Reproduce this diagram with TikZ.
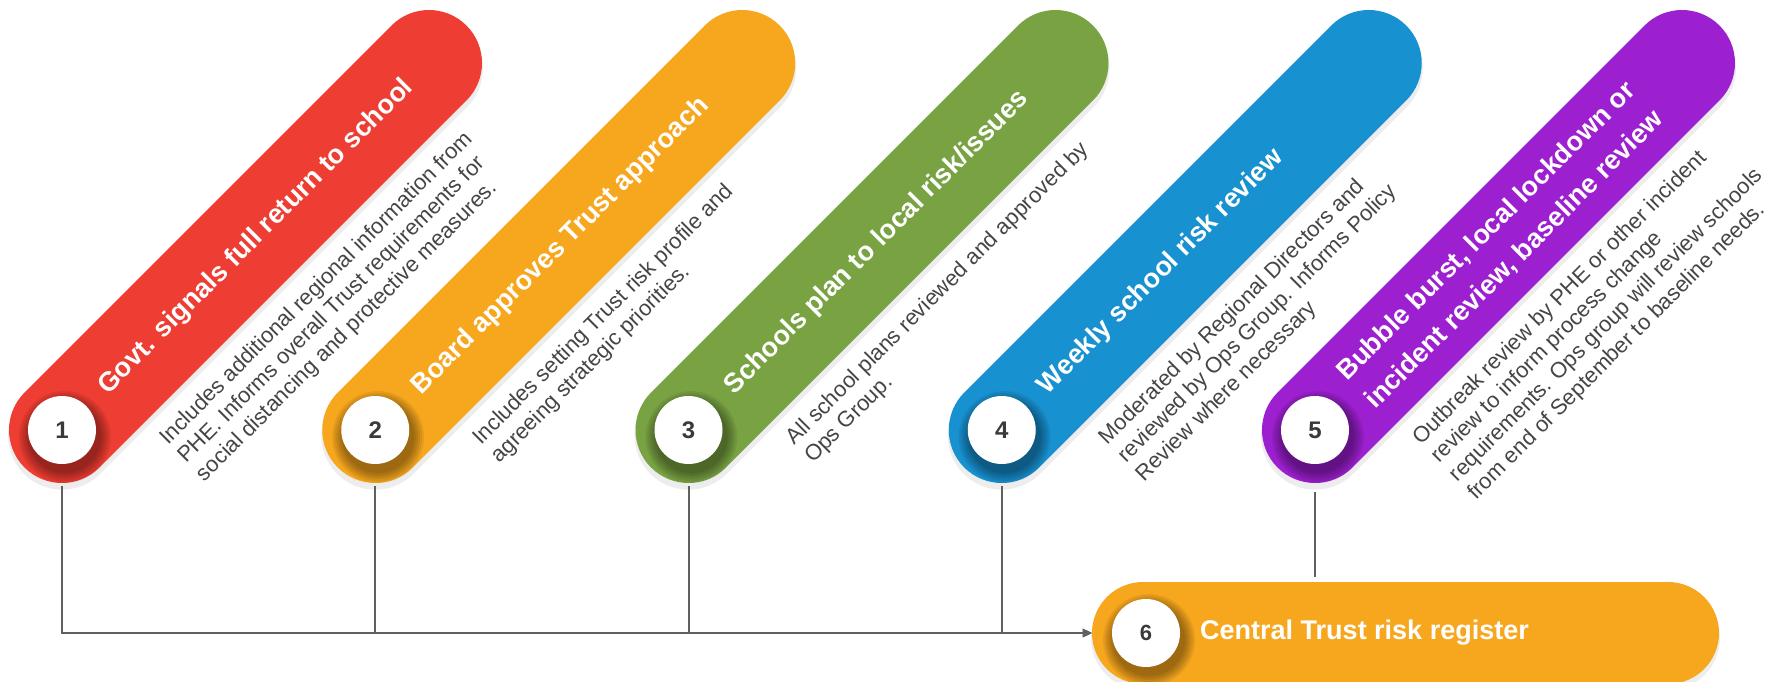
\documentclass[tikz,border=0pt]{standalone}
\usepackage{fontspec}
\setmainfont{Liberation Sans}
\usetikzlibrary{shapes.misc, arrows.meta}

\definecolor{govred}{HTML}{EE3D32}
\definecolor{boardorange}{HTML}{F7A71E}
\definecolor{schoolgreen}{HTML}{79A343}
\definecolor{weeklyblue}{HTML}{1891D0}
\definecolor{bubblepurple}{HTML}{9D20D0}
\definecolor{linkgray}{HTML}{606060}
\definecolor{infogray}{HTML}{454545}
\definecolor{numgray}{HTML}{3A3A3A}

\begin{document}
\begin{tikzpicture}[
        x = 1pt, y = -1pt,
        pill/.style = {line width = 106pt, line cap = round},
        haze/.style = {black, opacity = 0.07},
        numdot/.style = {circle, fill = white, minimum size = 68pt, inner sep = 0, text = numgray, font = \fontsize{24}{24}\selectfont\bfseries},
        head/.style = {text = white, font = \fontsize{27}{40}\selectfont\bfseries, align = left, anchor = west, inner sep = 0},
        info/.style = {text = infogray, font = \fontsize{22}{26}\selectfont, align = left, anchor = base west, inner sep = 0},
        regbox/.style = {rounded rectangle, fill = boardorange, minimum width = 627pt, minimum height = 102pt, inner sep = 0},
        link/.style = {linkgray, line width = 2pt}
    ]
        \useasboundingbox (0,0) rectangle (1765,682);

        \foreach \i/\col/\n/\head/\info in {
            1/govred/3/{Govt. signals full return to school}/{Includes additional regional information from\\PHE. Informs overall Trust requirements for\\social distancing and protective measures.},
            2/boardorange/2/{Board approves Trust approach}/{Includes setting Trust risk profile and\\agreeing strategic priorities.},
            3/schoolgreen/2/{Schools plan to local risk/issues}/{All school plans reviewed and approved by\\Ops Group.},
            4/weeklyblue/3/{Weekly school risk review}/{Moderated by Regional Directors and\\reviewed by Ops Group. Informs Policy\\Review where necessary},
            5/bubblepurple/4/{Bubble burst, local lockdown or\\incident review, baseline review}/{Outbreak review by PHE or other incident\\review to inform process change\\requirements. Ops group will review schools\\from end of September to baseline needs.}}{
            \begin{scope}[shift = {(62 + 313.25 * \i - 313.25, 430)}, rotate = 45]
                \draw[pill, haze, line width = 108pt] (-4,4) -- (515,4);
                \draw[pill, \col] (0,0) -- (519,0);
                \foreach \k in {1,...,6}
                    \fill[haze] (-3,7) circle[radius = 34 + 2 * \k];
                \node[numdot] (n\i) at (0,0) {\i};
                \node[head, rotate = 45] (h\i) at (57,1) {\head};
                \node[info, rotate = 45] (t\i) at (64,60 + 26 * \n) {\info};
            \end{scope}
        }

        \draw[haze, line width = 104pt, line cap = round] (1143,638) -- (1668,638);
        \node[regbox] (reg) at (1405.5,633) {};
        \foreach \k in {1,...,6}
            \fill[haze] (1149,640) circle[radius = 34 + 2 * \k];
        \node[numdot, font = \fontsize{22}{22}\selectfont\bfseries] (n6) at (1146,633) {6};
        \node[head] (h6) at (1200,633) {Central Trust risk register};

        \foreach \i in {1,...,4}
            \draw[link, -{Triangle[length = 9pt, width = 8pt]}] ([yshift = -22pt]n\i.south) |- (reg.west);
        \draw[link, shorten > = 5pt] ([yshift = -28pt]n5.south) -- (n5 |- reg.north);
    \end{tikzpicture}
\end{document}
